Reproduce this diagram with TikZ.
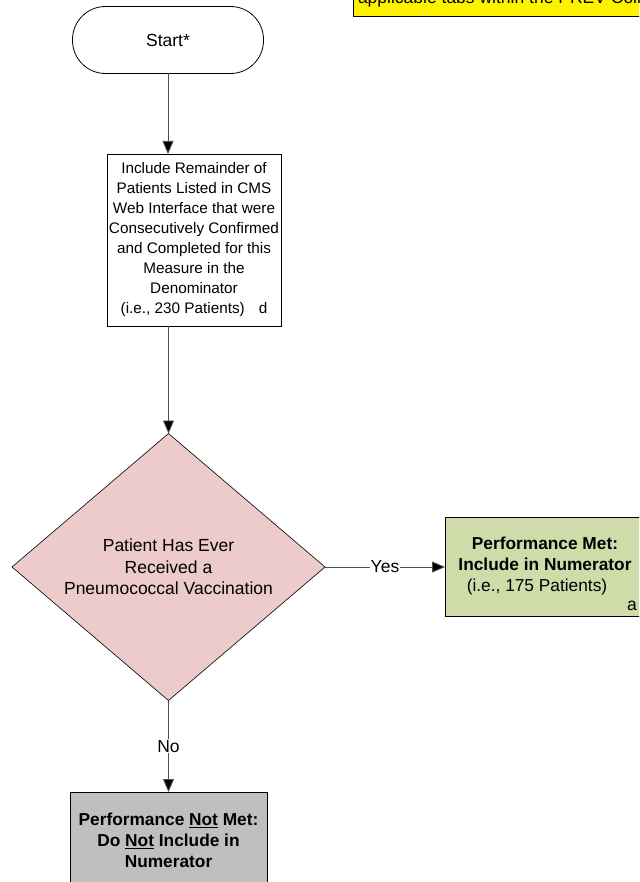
\documentclass[tikz,border=0pt]{standalone}
\usepackage{fontspec}
\setmainfont{Liberation Sans}
\usetikzlibrary{shapes.geometric,arrows.meta}
\definecolor{pinkfill}{HTML}{EDCBCB}
\definecolor{greenfill}{HTML}{CFDCAA}
\definecolor{grayfill}{HTML}{BFBFBF}
\definecolor{linegray}{HTML}{505050}
\begin{document}
\begin{tikzpicture}[x=1pt,y=-1pt,
  every node/.style={inner sep=0pt,outer sep=0pt},
  bigtxt/.style={font=\fontsize{17.5}{21.5}\selectfont},
  terminal/.style={draw=black,line width=0.8pt,rounded corners=33pt,minimum width=191pt,minimum height=67pt,bigtxt},
  procbox/.style={draw=black,line width=0.8pt,fill=white,align=center,font=\fontsize{15.3}{20}\selectfont},
  decision/.style={diamond,draw=black,line width=0.6pt,fill=pinkfill,aspect=1.172,minimum width=313pt,minimum height=267pt,align=center,bigtxt},
  resultbox/.style={draw=black,line width=0.8pt,align=center,font=\bfseries\fontsize{17.3}{21}\selectfont},
  conn/.style={draw=linegray,line width=0.8pt,-{Triangle[length=13pt,width=11pt,fill=black]}},
  lbl/.style={fill=white,inner sep=1pt,bigtxt}
]
\useasboundingbox (0,0) rectangle (639,882);
\clip (0,0) rectangle (639,882);

% yellow note (cut off at the top and right, as in the reference)
\node[draw=black,line width=0.8pt,fill=yellow,minimum width=360pt,minimum height=60pt,anchor=south west] (note) at (353,16) {};
\node[anchor=base west,bigtxt] (notetxt) at (358,4) {applicable tabs within the PREV Collection};

\node[terminal] (start) at (168,40) {Start*};

\node[procbox,minimum width=174pt,minimum height=172pt] (include) at (194,240)
  {Include Remainder of\\Patients Listed in CMS\\Web Interface that were\\Consecutively Confirmed\\and Completed for this\\Measure in the\\Denominator\\(i.e., 230 Patients)\hspace{14pt}d};

\node[decision] (dec) at (168.5,567)
  {Patient Has Ever\\Received a\\Pneumococcal Vaccination};

\node[resultbox,fill=greenfill,minimum width=200pt,minimum height=99pt] (met) at (545,566.5)
  {Performance Met:\\Include in Numerator\\\mdseries (i.e., 175 Patients)\hspace{16pt}\mbox{}};
\node[anchor=base,bigtxt] (meta) at (632,610) {a};

\node[resultbox,fill=grayfill,minimum width=197pt,minimum height=96pt] (notmet) at (168.5,840)
  {Performance \underline{Not} Met:\\Do \underline{Not} Include in\\Numerator};

\draw[conn] (start.south) -- (start.south |- include.north);
\draw[conn] (dec.north |- include.south) -- (dec.north);
\draw[conn] (dec.east) -- node[lbl] (yes) {Yes} (met.west |- dec.east);
\draw[conn] (dec.south) -- node[lbl] (no) {No} (notmet.north);
\end{tikzpicture}
\end{document}
